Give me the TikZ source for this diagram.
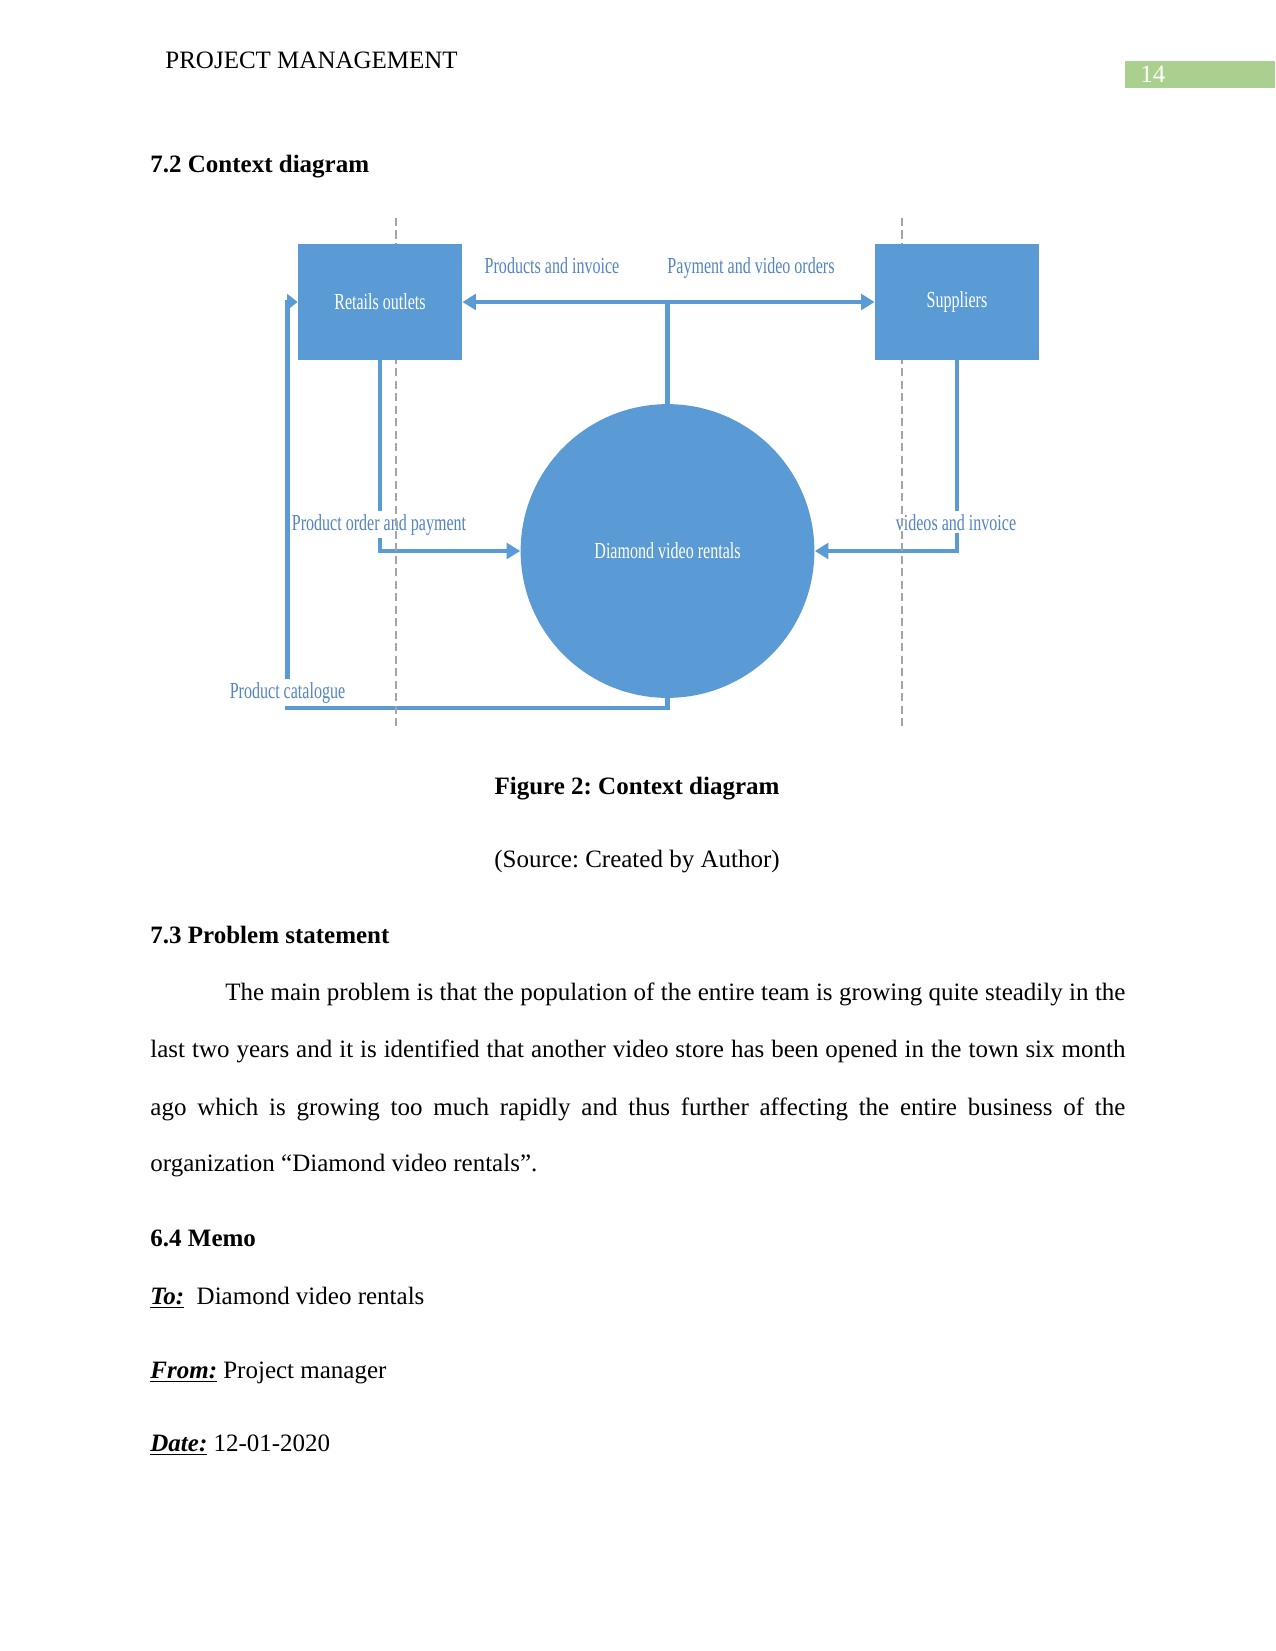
\documentclass[tikz,border=0pt]{standalone}
\usepackage{fontspec}
\usepackage{tikz}
\usetikzlibrary{arrows.meta,positioning,calc}
\setmainfont{Liberation Serif}
\newfontfamily\diagfont[FakeStretch=0.7]{Liberation Serif}
\definecolor{dfdblue}{RGB}{91,155,213}
\definecolor{labelblue}{RGB}{84,132,194}
\definecolor{pagegreen}{RGB}{169,208,142}
\definecolor{lanegray}{RGB}{165,165,165}
\pgfdeclarelayer{flowlayer}
\pgfdeclarelayer{lanelayer}
\pgfsetlayers{flowlayer,lanelayer,main}
\frenchspacing

\begin{document}
\begin{tikzpicture}[x=0.48pt, y=-0.48pt,
    every node/.style={font=\fontsize{12}{14}\selectfont, inner sep=0pt},
    entity/.style={fill=dfdblue, minimum width=78.7pt, minimum height=55.7pt,
                   text=white, font=\diagfont\fontsize{11}{13}\selectfont},
    process/.style={circle, fill=dfdblue, minimum size=141pt,
                    text=white, font=\diagfont\fontsize{11}{13}\selectfont},
    flowlabel/.style={anchor=base, fill=white, inner sep=1.5pt, text=labelblue,
                      font=\diagfont\fontsize{11}{13}\selectfont},
    flow/.style={draw=dfdblue, line width=2pt,
                 -{Triangle[length=6.5pt,width=7.5pt]}},
    lane/.style={draw=lanegray, line width=0.5pt, dash pattern=on 4pt off 2pt},
    bodyline/.style={anchor=base west}]
  \useasboundingbox (0,0) rectangle (1275,1651);
  \begin{pgfonlayer}{flowlayer}
    \fill[white] (0,0) rectangle (1275,1651);
  \end{pgfonlayer}

  % page header
  \node[bodyline] (header) at (165,69) {PROJECT MANAGEMENT};
  \fill[pagegreen] (1125,61) rectangle (1275,88);
  \node[bodyline, text=white] (pageno) at (1140,83) {14};

  \node[bodyline, font=\fontsize{12}{14}\selectfont\bfseries] (sec72) at (150,173) {7.2 Context diagram};

  % context diagram
  \node[entity] (retail) at (380,302) {Retails outlets};
  \node[entity] (supplier) at (957,302) {Suppliers};
  \node[process] (dvr) at (667.5,551) {Diamond video rentals};
  \coordinate (catcorner) at (287.5,708);

  \begin{pgfonlayer}{flowlayer}
    \draw[flow, {Triangle[length=6.5pt,width=7.5pt]}-{Triangle[length=6.5pt,width=7.5pt]}]
      (retail.east) -- (supplier.west);
    \draw[flow, -] (dvr.north) -- (dvr.north |- retail.east);
    \draw[flow] (retail.south) |- (dvr.west);
    \draw[flow] (supplier.south) |- (dvr.east);
    \draw[flow, -{Triangle[length=5pt,width=7.5pt]}] (dvr.south) |- (catcorner) |- (retail.west);

    \node[flowlabel] (lblprod) at (552,274) {Products and invoice};
    \node[flowlabel] (lblpay) at (751,274) {Payment and video orders};
    \node[flowlabel, inner xsep=0pt] (lblorder) at (379,530) {Product order and payment};
    \node[flowlabel] (lblvideos) at (956,530) {videos and invoice};
    \node[flowlabel] (lblcat) at (287.5,698) {Product catalogue};
  \end{pgfonlayer}

  % swim lanes
  \coordinate (laneAtop) at (396,218);
  \coordinate (laneAbot) at (396,727);
  \coordinate (laneBtop) at (902,218);
  \coordinate (laneBbot) at (902,727);
  \begin{pgfonlayer}{lanelayer}
    \draw[lane] (laneAtop) -- (laneAbot);
    \draw[lane] (laneBtop) -- (laneBbot);
  \end{pgfonlayer}

  % caption
  \node[anchor=base, font=\fontsize{12}{14}\selectfont\bfseries] (caption) at (637,794) {Figure 2: Context diagram};
  \node[anchor=base] (source) at (637,867) {(Source: Created by Author)};

  % problem statement
  \node[bodyline, font=\fontsize{12}{14}\selectfont\bfseries] (sec73) at (150,943) {7.3 Problem statement};
  \node[bodyline] (par1) at (225,1000) {\makebox[432pt][s]{The main problem is that the population of the entire team is growing quite steadily in the}};
  \node[bodyline] (par2) at (150,1057) {\makebox[468pt][s]{last two years and it is identified that another video store has been opened in the town six month}};
  \node[bodyline] (par3) at (150,1115) {\makebox[468pt][s]{ago which is growing too much rapidly and thus further affecting the entire business of the}};
  \node[bodyline] (par4) at (150,1171) {organization “Diamond video rentals”.};

  % memo
  \node[bodyline, font=\fontsize{12}{14}\selectfont\bfseries] (sec64) at (150,1246) {6.4 Memo};
  \node[bodyline] (memoto) at (150,1304) {\underline{\textbf{\textit{To:}}}\ \ Diamond video rentals};
  \node[bodyline] (memofrom) at (150,1378) {\underline{\textbf{\textit{From:}}} Project manager};
  \node[bodyline] (memodate) at (150,1451) {\underline{\textbf{\textit{Date:}}} 12-01-2020};
\end{tikzpicture}
\end{document}
